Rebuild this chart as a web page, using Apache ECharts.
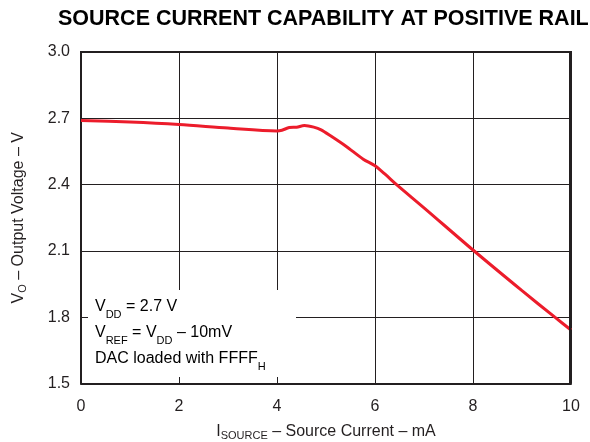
<!DOCTYPE html>
<html>
<head>
<meta charset="utf-8">
<script src="https://cdn.jsdelivr.net/npm/echarts@6/dist/echarts.min.js"></script>
<style>
  html, body { margin: 0; padding: 0; background: #fff; }
  #chart { width: 590px; height: 442px; }
</style>
</head>
<body>
<div id="chart"></div>
<script>
const currentMA = [0, 1, 2, 3, 4, 4.1, 4.25, 4.4, 4.56, 4.75, 4.9, 5.1, 5.4, 5.76, 6, 6.2, 6.44, 7, 8, 9, 9.67, 10]
const outputV = [2.69, 2.683, 2.672, 2.656, 2.643, 2.646, 2.658, 2.66, 2.667, 2.66, 2.648, 2.62, 2.575, 2.515, 2.485, 2.448, 2.4, 2.295, 2.104, 1.92, 1.8, 1.742]
const xTicks = [0, 2, 4, 6, 8, 10]
const yTicks = [1.5, 1.8, 2.1, 2.4, 2.7, 3.0]

const font = '"Liberation Sans", Arial, sans-serif'
const ink = '#231f20'
const sub = { fontSize: 11, fontFamily: font, color: ink, verticalAlign: 'bottom', padding: [8, 0, 0, 0] }
const big = { fontSize: 16, fontFamily: font, color: ink }

const chart = echarts.init(document.getElementById('chart'), null, { renderer: 'canvas' })

chart.setOption({
  backgroundColor: '#fff',
  animation: false,
  title: {
    text: 'SOURCE CURRENT CAPABILITY AT POSITIVE RAIL',
    left: 53,
    top: 3,
    textStyle: { fontFamily: font, fontWeight: 'bold', fontSize: 21.5, color: '#000' }
  },
  // keep the plot box fixed, labels may sit outside it
  grid: { left: 81, right: 19, top: 52, bottom: 58.5, outerBoundsMode: 'none', containLabel: false },
  xAxis: {
    type: 'value',
    min: 0, max: 10, interval: 2,
    name: '{a|I}{s|SOURCE}{a| – Source Current – mA}',
    nameLocation: 'middle',
    nameGap: 39,
    nameTextStyle: { rich: { a: big, s: sub } },
    axisLine: { show: true, lineStyle: { color: ink, width: 2 } },
    axisTick: { show: true, inside: true, length: 5, lineStyle: { color: ink } },
    axisLabel: { color: ink, fontSize: 16, fontFamily: font, margin: 15,
      formatter: v => xTicks.includes(v) ? String(v) : '' },
    splitLine: { show: true, lineStyle: { color: ink, width: 1 } }
  },
  yAxis: {
    type: 'value',
    min: 1.5, max: 3.0, interval: 0.3,
    name: '{a|V}{s|O}{a| – Output Voltage – V}',
    nameLocation: 'middle',
    nameGap: 53,
    nameRotate: 90,
    nameTextStyle: { rich: { a: big, s: sub } },
    axisLine: { show: true, lineStyle: { color: ink, width: 2 } },
    axisTick: { show: true, inside: true, length: 5, lineStyle: { color: ink } },
    axisLabel: { color: ink, fontSize: 16, fontFamily: font, margin: 11,
      formatter: v => yTicks.find(t => Math.abs(t - v) < 1e-6)?.toFixed(1) ?? '' },
    splitLine: { show: true, lineStyle: { color: ink, width: 1 } }
  },
  graphic: [
    { type: 'rect', shape: { x: 0, y: 0, width: 2, height: 333 }, left: 569, top: 51,
      style: { fill: ink }, z: 10 },
    { type: 'rect', shape: { x: 0, y: 0, width: 492, height: 2 }, left: 80, top: 51,
      style: { fill: ink }, z: 10 },
    { type: 'rect', shape: { x: 0, y: 0, width: 208, height: 87 }, left: 88, top: 290,
      style: { fill: '#fff' }, z: 5 },
    {
      type: 'text', left: 95, top: 294, z: 6,
      style: {
        text: '{a|V}{s|DD}{a| = 2.7 V}\n{a|V}{s|REF}{a| = V}{s|DD}{a| – 10mV}\n{a|DAC loaded with FFFF}{s|H}',
        lineHeight: 26,
        rich: { a: Object.assign({ lineHeight: 26 }, big), s: Object.assign({ lineHeight: 26 }, sub) }
      }
    }
  ],
  series: [{
    type: 'line',
    data: currentMA.map((x, i) => [x, outputV[i]]),
    smooth: 0.3,
    symbol: 'none',
    lineStyle: { color: '#ec1c2b', width: 3 },
    z: 3
  }]
})
</script>
</body>
</html>
